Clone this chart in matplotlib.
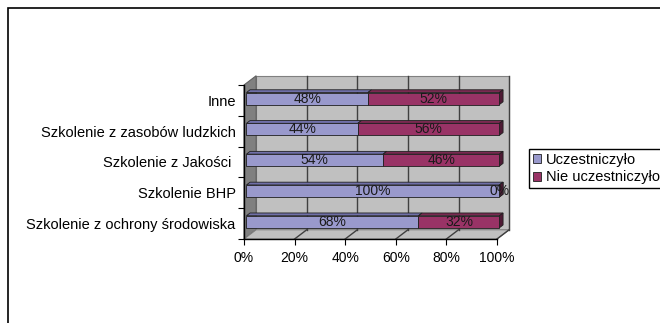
import matplotlib.pyplot as plt
from matplotlib.patches import Polygon, Rectangle

categories = ["Szkolenie z ochrony środowiska", "Szkolenie BHP", "Szkolenie z Jakości ",
              "Szkolenie z zasobów ludzkich", "Inne"]
took_part = [68, 100, 54, 44, 48]
not_part = [32, 0, 46, 56, 52]
series_names = ["Uczestniczyło", "Nie uczestniczyło"]
xticks = [0, 20, 40, 60, 80, 100]

plt.rcParams['font.family'] = ['Liberation Sans', 'DejaVu Sans']

fig = plt.figure(figsize=(6.6, 3.23), dpi=100)
ax = fig.add_axes([244 / 660, 1 - 239 / 323, 253 / 660, 154 / 323])
ax.set_xlim(0, 100)
ax.set_ylim(-0.5, len(categories) - 0.5)
ax.patch.set_visible(False)

# depth of the 3D box in data units
dx, dy = 4.8, 0.3
top = len(categories) - 0.5

# walls and floor
ax.add_patch(Polygon([(dx, -0.5 + dy), (100 + dx, -0.5 + dy), (100 + dx, top + dy), (dx, top + dy)],
                     facecolor="#c0c0c0", edgecolor="#808080", lw=0.8, clip_on=False, zorder=0))
ax.add_patch(Polygon([(0, -0.5), (dx, -0.5 + dy), (dx, top + dy), (0, top)],
                     facecolor="#808080", edgecolor="#606060", lw=0.8, clip_on=False, zorder=0))
ax.add_patch(Polygon([(0, -0.5), (100, -0.5), (100 + dx, -0.5 + dy), (dx, -0.5 + dy)],
                     facecolor="#c0c0c0", edgecolor="#808080", lw=0.8, clip_on=False, zorder=0))
for x in xticks[1:]:
    ax.plot([x + dx, x + dx], [-0.5 + dy, top + dy], color="#404040", lw=1.0, clip_on=False, zorder=1)
    ax.plot([x, x + dx], [-0.5, -0.5 + dy], color="#404040", lw=1.0, clip_on=False, zorder=1)

# bars with a bit of depth
f0, f1 = 0.2, 0.5
bh = 0.39
styles = [("#9999cc", "#6f6fa8", "#55558a"), ("#993366", "#7a2951", "#4f1a35")]
for i in range(len(categories)):
    left = 0
    for vals, (front, topc, side), name in zip([took_part, not_part], styles, series_names):
        v = vals[i]
        ox, oy = f0 * dx, f0 * dy
        ex, ey = (f1 - f0) * dx, (f1 - f0) * dy
        x0, x1 = left + ox, left + v + ox
        y0, y1 = i - bh / 2 + oy, i + bh / 2 + oy
        if v > 0:
            ax.add_patch(Polygon([(x0, y1), (x1, y1), (x1 + ex, y1 + ey), (x0 + ex, y1 + ey)],
                                 facecolor=topc, edgecolor="#202020", lw=0.6, clip_on=False, zorder=3))
            ax.add_patch(Rectangle((x0, y0), v, bh, facecolor=front, edgecolor="#202020",
                                   lw=0.6, clip_on=False, zorder=4))
        if left + v >= 100:
            ax.add_patch(Polygon([(x1, y0), (x1 + ex, y0 + ey), (x1 + ex, y1 + ey), (x1, y1)],
                                 facecolor=side, edgecolor="#202020", lw=0.6, clip_on=False, zorder=3))
        ax.text(left + v / 2 + ox, i + oy, f"{v}%", ha="center", va="center",
                fontsize=10, color="#1a1a1a", zorder=5, clip_on=False)
        left += v

ax.set_yticks([i - 0.5 for i in range(len(categories) + 1)])
ax.set_yticklabels([])
ax.set_yticks(range(len(categories)), minor=True)
ax.set_yticklabels(categories, minor=True, fontsize=10.5)
ax.tick_params(axis="y", which="major", length=4, direction="out")
ax.tick_params(axis="y", which="minor", length=0, pad=6)
ax.set_xticks(xticks)
ax.set_xticklabels([f"{x}%" for x in xticks], fontsize=10)
ax.tick_params(axis="x", length=4, direction="out", pad=5)
for s in ["top", "right"]:
    ax.spines[s].set_visible(False)
for s in ["left", "bottom"]:
    ax.spines[s].set_linewidth(1.0)
    ax.spines[s].set_zorder(2)

# legend
handles = [Rectangle((0, 0), 1, 1, facecolor=c[0], edgecolor="#202020", lw=0.6) for c in styles]
fig.legend(handles, series_names, loc="upper left", bbox_to_anchor=(529 / 660, 1 - 149 / 323),
           fontsize=10.5, frameon=True, fancybox=False, edgecolor="black", framealpha=1,
           handlelength=0.6, handleheight=0.6, handletextpad=0.3, borderpad=0.25, labelspacing=0.25,
           borderaxespad=0)

# outer chart border
fig.patches.append(Rectangle((8 / 660, -0.1), 1.2, 1.1 - 8 / 323, transform=fig.transFigure,
                             fill=False, edgecolor="black", lw=1.2))

fig.savefig("out.png", dpi=100)
